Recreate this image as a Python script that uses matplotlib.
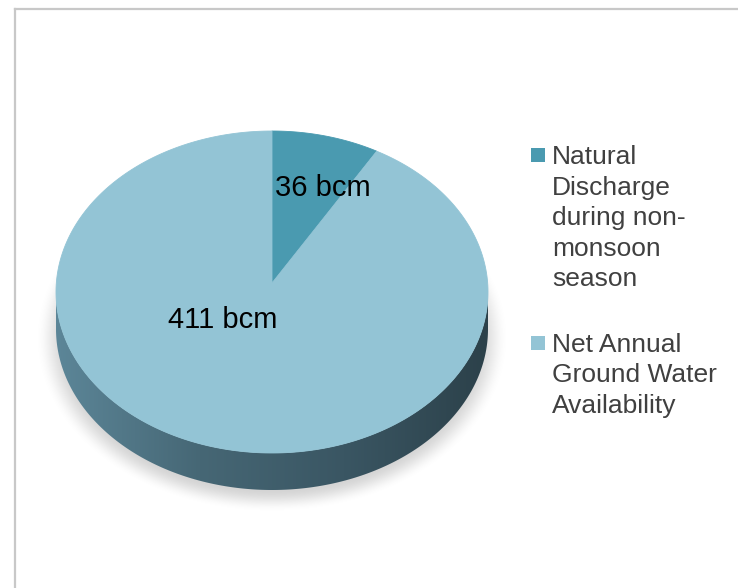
import matplotlib
matplotlib.use('Agg')
import matplotlib.pyplot as plt
import numpy as np
from matplotlib.patches import Polygon, Rectangle
from matplotlib.colors import LinearSegmentedColormap

# ground water balance (billion cubic metres)
categories = ['Natural\nDischarge\nduring non-\nmonsoon\nseason',
              'Net Annual\nGround Water\nAvailability']
values = [36, 411]
unit = 'bcm'
slice_colors = ['#4a9ab0', '#93c4d5']

W, H = 738, 588
plt.rcParams['font.family'] = ['Liberation Sans', 'DejaVu Sans']

fig = plt.figure(figsize=(W / 100, H / 100), dpi=100)
ax = fig.add_axes([0, 0, 1, 1])

# chart area border
ax.plot([15, W], [9, 9], color='#c8c8c8', lw=1.6, zorder=0)
ax.plot([15, 15], [9, H], color='#c8c8c8', lw=1.6, zorder=0)

# pie geometry in pixels
cx, cy = 272, 292
rx, ry = 216, 161
depth = 37
apex = (272, 283)


def rim(t):
    # t in degrees, clockwise from 12 o'clock
    t = np.radians(t)
    return cx + rx * np.sin(t), cy - ry * np.cos(t)


# soft drop shadow under the pie
yy, xx = np.mgrid[0:H, 0:W] + 0.5
d = np.hypot((xx - 272) / 236, (yy - 338) / 174)
s = np.clip((1.0 - d) / 0.13, 0, 1)
shadow = np.zeros((H, W, 4))
shadow[..., :3] = 0.6
shadow[..., 3] = 0.42 * s * s * (3 - 2 * s)
ax.imshow(shadow, extent=(0, W, H, 0), origin='upper', zorder=1,
          interpolation='bilinear')

# side wall of the pie with a shaded gradient
t = np.linspace(90, 270, 300)
x, y = rim(t)
side_xy = np.concatenate([np.column_stack([x, y]),
                          np.column_stack([x[::-1], y[::-1] + depth])])
side = Polygon(side_xy, closed=True, facecolor='none', edgecolor='none')
ax.add_patch(side)
side_cmap = LinearSegmentedColormap.from_list(
    'side', ['#5c8698', '#466775', '#3a5663', '#2c414a'])
grad = np.linspace(0, 1, 256)[None, :]
im = ax.imshow(grad, cmap=side_cmap, aspect='auto', zorder=2,
               extent=(cx - rx, cx + rx, cy + ry + depth + 2, cy - 2))
im.set_clip_path(side)

# top face slices
bounds = np.concatenate([[0], np.cumsum(values)]) / sum(values) * 360
for c, a0, a1 in zip(slice_colors, bounds[:-1], bounds[1:]):
    t = np.linspace(a0, a1, 300)
    x, y = rim(t)
    pts = np.vstack([[apex], np.column_stack([x, y])])
    ax.add_patch(Polygon(pts, closed=True, facecolor=c, edgecolor=c,
                         lw=0.6, zorder=3))

# data labels
label_pos = [(275, 196, 'left'), (223, 328, 'center')]
for v, (lx, ly, ha) in zip(values, label_pos):
    ax.text(lx, ly, f'{v} {unit}', fontsize=21, color='black',
            ha=ha, va='baseline', zorder=5)

# legend
first_baseline = [164, 352]
line_gap = 30.5
for name, c, b in zip(categories, slice_colors, first_baseline):
    ax.add_patch(Rectangle((531, b - 16), 14, 14, facecolor=c,
                           edgecolor='none', zorder=5))
    for i, line in enumerate(name.split('\n')):
        ax.text(552, b + i * line_gap, line, fontsize=19, color='#404040',
                ha='left', va='baseline', zorder=5)

ax.set_xlim(0, W)
ax.set_ylim(H, 0)
ax.set_aspect('auto')
ax.axis('off')

fig.savefig('out.png', dpi=100, facecolor='white')
